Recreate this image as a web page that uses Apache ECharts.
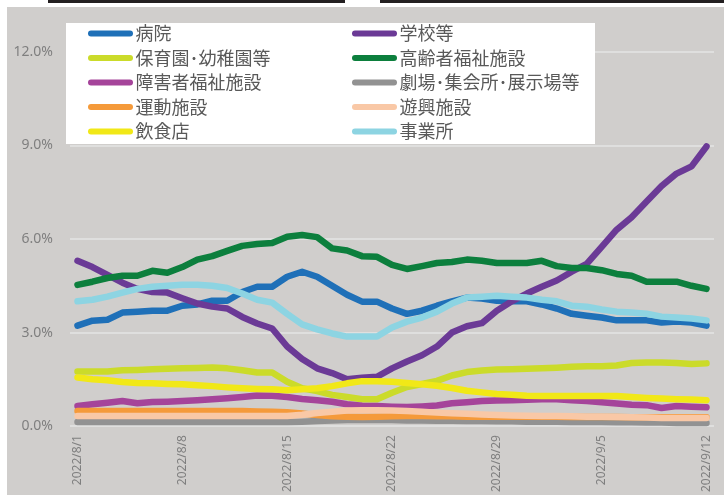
<!DOCTYPE html>
<html>
<head>
<meta charset="utf-8">
<script src="https://cdn.jsdelivr.net/npm/echarts@6/dist/echarts.min.js"></script>
<style>
  html, body { margin: 0; padding: 0; background: #fff; }
  #grafico { width: 724px; height: 495px; }
</style>
</head>
<body>
<div id="grafico"></div>
<script>
const fechas = [
  "2022/8/1","2022/8/2","2022/8/3","2022/8/4","2022/8/5","2022/8/6","2022/8/7",
  "2022/8/8","2022/8/9","2022/8/10","2022/8/11","2022/8/12","2022/8/13","2022/8/14",
  "2022/8/15","2022/8/16","2022/8/17","2022/8/18","2022/8/19","2022/8/20","2022/8/21",
  "2022/8/22","2022/8/23","2022/8/24","2022/8/25","2022/8/26","2022/8/27","2022/8/28",
  "2022/8/29","2022/8/30","2022/8/31","2022/9/1","2022/9/2","2022/9/3","2022/9/4",
  "2022/9/5","2022/9/6","2022/9/7","2022/9/8","2022/9/9","2022/9/10","2022/9/11",
  "2022/9/12"
];

const nombres = ["病院", "学校等", "保育園･幼稚園等", "高齢者福祉施設", "障害者福祉施設",
  "劇場･集会所･展示場等", "運動施設", "遊興施設", "飲食店", "事業所"];

const colores = ["#1f70b8", "#6b3a96", "#cbdb2a", "#0c7f3d", "#a5449a",
  "#929292", "#f59a3a", "#f9c8a6", "#f1e817", "#8dd4e2"];

const byoin = [3.22,3.38,3.41,3.64,3.67,3.7,3.7,3.86,3.9,4.02,
  4.02,4.3,4.47,4.47,4.79,4.95,4.79,4.5,4.21,3.99,
  3.99,3.77,3.6,3.7,3.86,4.0,4.12,4.09,4.02,4.0,
  4.0,3.9,3.77,3.6,3.54,3.48,3.39,3.39,3.39,3.32,
  3.35,3.32,3.22];
const gakko = [5.3,5.1,4.85,4.6,4.4,4.3,4.28,4.1,3.93,3.83,
  3.77,3.5,3.29,3.13,2.55,2.15,1.85,1.7,1.5,1.55,
  1.58,1.85,2.07,2.27,2.55,3.0,3.2,3.3,3.7,4.0,
  4.25,4.47,4.67,4.95,5.2,5.75,6.3,6.7,7.2,7.7,
  8.1,8.33,8.97];
const hoikuen = [1.75,1.75,1.75,1.79,1.8,1.82,1.84,1.85,1.86,1.88,
  1.85,1.79,1.72,1.72,1.42,1.21,1.12,1.0,0.93,0.86,
  0.86,1.07,1.25,1.35,1.45,1.62,1.73,1.78,1.81,1.82,
  1.84,1.85,1.87,1.9,1.92,1.92,1.94,2.02,2.04,2.04,
  2.02,1.99,2.01];
const koreisha = [4.53,4.63,4.75,4.82,4.82,4.98,4.92,5.1,5.34,5.45,
  5.62,5.78,5.84,5.87,6.07,6.13,6.06,5.7,5.63,5.45,
  5.43,5.17,5.04,5.13,5.23,5.26,5.34,5.3,5.23,5.23,
  5.23,5.3,5.13,5.07,5.07,5.0,4.88,4.82,4.63,4.63,
  4.63,4.5,4.4];
const shogaisha = [0.64,0.7,0.75,0.8,0.73,0.77,0.78,0.8,0.83,0.86,
  0.89,0.93,0.98,0.97,0.93,0.87,0.83,0.78,0.7,0.65,
  0.64,0.62,0.61,0.63,0.66,0.73,0.76,0.8,0.82,0.83,
  0.84,0.86,0.86,0.83,0.8,0.76,0.72,0.68,0.67,0.58,
  0.64,0.62,0.6];
const gekijo = [0.13,0.13,0.13,0.13,0.13,0.13,0.13,0.13,0.13,0.13,
  0.13,0.13,0.13,0.13,0.13,0.14,0.16,0.18,0.19,0.19,
  0.19,0.19,0.18,0.18,0.17,0.17,0.16,0.16,0.15,0.15,
  0.14,0.14,0.14,0.13,0.13,0.13,0.12,0.12,0.11,0.11,
  0.1,0.1,0.1];
const undo = [0.48,0.48,0.48,0.48,0.48,0.48,0.48,0.48,0.48,0.48,
  0.48,0.48,0.47,0.46,0.44,0.4,0.35,0.31,0.3,0.29,
  0.3,0.31,0.32,0.32,0.31,0.31,0.3,0.3,0.3,0.3,
  0.3,0.3,0.3,0.29,0.29,0.29,0.29,0.28,0.28,0.28,
  0.28,0.28,0.28];
const yuko = [0.32,0.32,0.32,0.32,0.32,0.32,0.32,0.32,0.32,0.32,
  0.32,0.32,0.32,0.32,0.32,0.36,0.42,0.46,0.5,0.51,
  0.51,0.5,0.48,0.46,0.43,0.41,0.39,0.37,0.35,0.34,
  0.33,0.32,0.32,0.31,0.3,0.3,0.29,0.28,0.27,0.26,
  0.26,0.26,0.26];
const inshokuten = [1.56,1.5,1.47,1.41,1.38,1.37,1.35,1.34,1.31,1.28,
  1.24,1.21,1.19,1.18,1.15,1.18,1.21,1.28,1.37,1.44,
  1.44,1.42,1.38,1.34,1.29,1.22,1.13,1.08,1.03,1.0,
  0.97,0.96,0.96,0.96,0.96,0.96,0.96,0.93,0.9,0.88,
  0.86,0.85,0.83];
const jigyosho = [4.0,4.05,4.15,4.28,4.4,4.47,4.5,4.53,4.53,4.5,
  4.43,4.25,4.05,3.96,3.6,3.26,3.1,2.97,2.87,2.87,
  2.87,3.16,3.35,3.48,3.67,3.93,4.12,4.15,4.18,4.15,
  4.12,4.05,4.0,3.86,3.83,3.74,3.67,3.64,3.6,3.51,
  3.48,3.45,3.39];

const valores = [byoin, gakko, hoikuen, koreisha, shogaisha, gekijo, undo, yuko, inshokuten, jigyosho];

const ticksY = [0, 3, 6, 9, 12];

const fuente = "'Noto Sans CJK JP', 'Noto Sans', sans-serif";
const icono = "path://M3,0 L42,0 A3,3 0 0 1 42,6 L3,6 A3,3 0 0 1 3,0 Z";

const series = nombres.map(function(n, i) {
  return {
    name: n,
    type: "line",
    data: valores[i],
    showSymbol: false,
    symbol: "none",
    color: colores[i],
    lineStyle: { width: 6.5, color: colores[i], cap: "round", join: "round" },
    z: 2 + i * 0.01
  };
});

function leyenda(items, left) {
  return {
    data: items,
    orient: "vertical",
    left: left,
    top: 23,
    padding: 0,
    itemWidth: 46,
    itemHeight: 6,
    itemGap: 3.5,
    icon: icono,
    z: 6,
    textStyle: { fontFamily: fuente, fontSize: 18, color: "#595959", lineHeight: 21, padding: [0, 0, 0, -3] }
  };
}

const chart = echarts.init(document.getElementById("grafico"));
chart.setOption({
  backgroundColor: "#ffffff",
  animation: false,
  graphic: [
    { type: "rect", left: 7, top: 7, z: -10, shape: { width: 717, height: 488 }, style: { fill: "#d0cecc" } },
    { type: "rect", left: 48, top: 0, z: -10, shape: { width: 297, height: 3 }, style: { fill: "#231f20" } },
    { type: "rect", left: 380, top: 0, z: -10, shape: { width: 344, height: 3 }, style: { fill: "#231f20" } },
    { type: "rect", left: 66, top: 23, z: 5, shape: { width: 529, height: 121 }, style: { fill: "#ffffff" } }
  ],
  legend: [
    leyenda([nombres[0], nombres[2], nombres[4], nombres[6], nombres[8]], 88),
    leyenda([nombres[1], nombres[3], nombres[5], nombres[7], nombres[9]], 352)
  ],
  grid: { left: 70, right: 10, top: 52, bottom: 67 },
  xAxis: {
    type: "category",
    data: fechas,
    boundaryGap: true,
    axisTick: { show: false },
    axisLine: { show: false },
    axisLabel: {
      interval: 6,
      rotate: 90,
      margin: 9,
      fontFamily: "'Noto Sans', sans-serif",
      fontSize: 12,
      color: "#7f7f7f"
    }
  },
  yAxis: {
    type: "value",
    min: ticksY[0],
    max: ticksY[ticksY.length - 1],
    interval: 3,
    axisLabel: {
      fontFamily: "'Noto Sans', sans-serif",
      fontSize: 14,
      color: "#7f7f7f",
      margin: 17,
      formatter: function(v) { return v.toFixed(1) + "%"; }
    },
    splitLine: { lineStyle: { color: "#e4e4e4", width: 1.5 } }
  },
  series: series
});
</script>
</body>
</html>
